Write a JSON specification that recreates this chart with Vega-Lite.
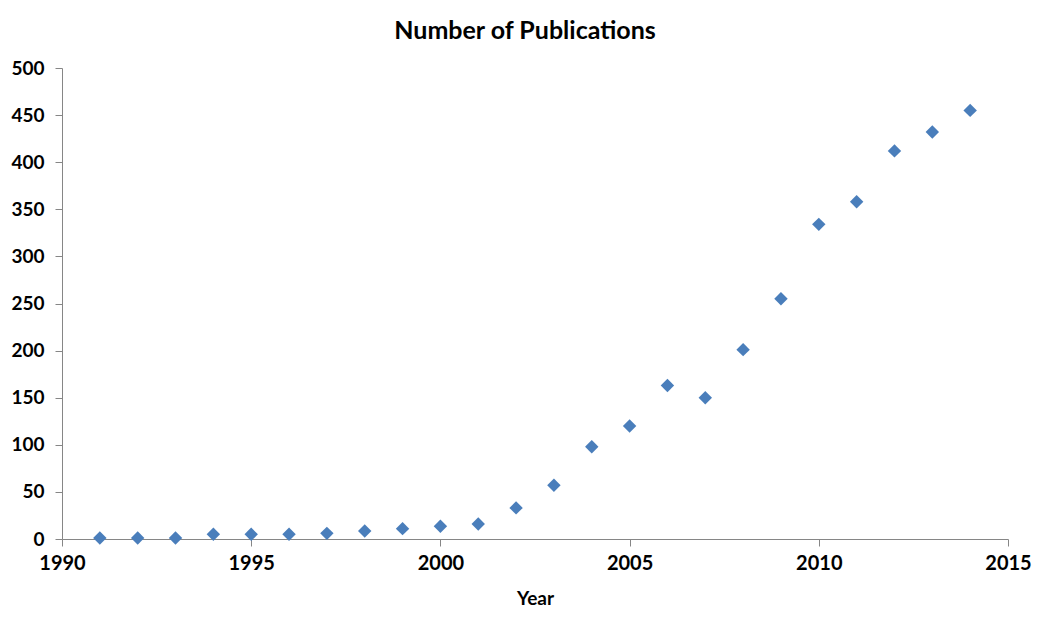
{
  "$schema": "https://vega.github.io/schema/vega-lite/v6.json",
  "width": 946,
  "height": 471,
  "autosize": {"type": "none"},
  "padding": {"left": 62, "top": 68, "right": 42, "bottom": 93},
  "background": "white",
  "title": {
    "text": "Number of Publications",
    "font": "Lato",
    "fontSize": 25,
    "fontWeight": "bold",
    "color": "#000000",
    "offset": 15,
    "dx": -10,
    "anchor": "middle"
  },
  "data": {
    "values": [
      {"Year": 1991, "Publications": 1},
      {"Year": 1992, "Publications": 1},
      {"Year": 1993, "Publications": 1},
      {"Year": 1994, "Publications": 5},
      {"Year": 1995, "Publications": 5},
      {"Year": 1996, "Publications": 5},
      {"Year": 1997, "Publications": 6},
      {"Year": 1998, "Publications": 8.5},
      {"Year": 1999, "Publications": 11},
      {"Year": 2000, "Publications": 13.5},
      {"Year": 2001, "Publications": 16},
      {"Year": 2002, "Publications": 33},
      {"Year": 2003, "Publications": 57},
      {"Year": 2004, "Publications": 98},
      {"Year": 2005, "Publications": 120},
      {"Year": 2006, "Publications": 163},
      {"Year": 2007, "Publications": 150},
      {"Year": 2008, "Publications": 201},
      {"Year": 2009, "Publications": 255},
      {"Year": 2010, "Publications": 334},
      {"Year": 2011, "Publications": 358},
      {"Year": 2012, "Publications": 412},
      {"Year": 2013, "Publications": 432},
      {"Year": 2014, "Publications": 455}
    ]
  },
  "mark": {"type": "point", "shape": "diamond", "filled": true, "size": 180, "color": "#4A7EBB", "opacity": 1},
  "encoding": {
    "x": {
      "field": "Year",
      "type": "quantitative",
      "scale": {"domain": [1990, 2015], "nice": false, "zero": false},
      "axis": {
        "values": [1990, 1995, 2000, 2005, 2010, 2015],
        "format": "d",
        "grid": false,
        "title": "Year",
        "titleFont": "Lato",
        "titleFontSize": 19,
        "titleFontWeight": "bold",
        "titleColor": "#000000",
        "titlePadding": 16,
        "labelFont": "Lato",
        "labelFontSize": 20,
        "labelFontWeight": "bold",
        "labelColor": "#000000",
        "labelPadding": 7,
        "tickSize": 7,
        "tickColor": "#868686",
        "domainColor": "#868686",
        "labelFlush": false
      }
    },
    "y": {
      "field": "Publications",
      "type": "quantitative",
      "scale": {"domain": [0, 500], "nice": false},
      "axis": {
        "values": [0, 50, 100, 150, 200, 250, 300, 350, 400, 450, 500],
        "grid": false,
        "title": null,
        "labelFont": "Lato",
        "labelFontSize": 19,
        "labelFontWeight": "bold",
        "labelColor": "#000000",
        "labelPadding": 11,
        "tickSize": 7,
        "tickColor": "#868686",
        "domainColor": "#868686"
      }
    }
  },
  "config": {
    "view": {"stroke": null}
  }
}
